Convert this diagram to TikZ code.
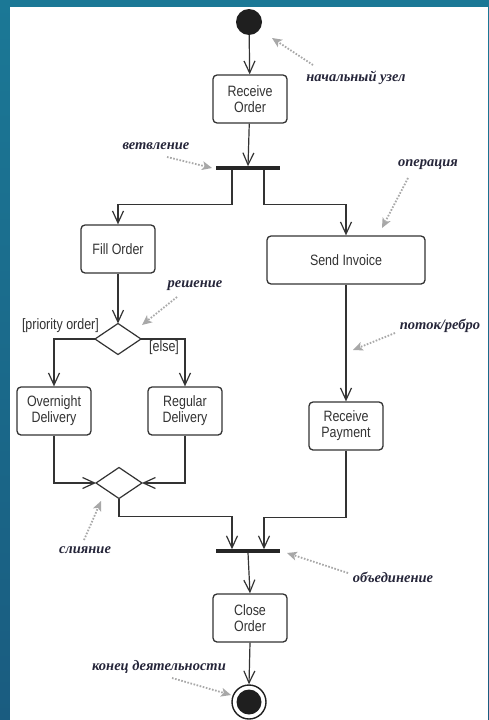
\documentclass[tikz,border=0pt]{standalone}
\usepackage{fontspec}
\setmainfont{Liberation Sans}[FakeStretch=0.83]
\newfontfamily\notefont{Liberation Serif}
\usetikzlibrary{arrows.meta,shapes.geometric,calc}

\definecolor{frameA}{HTML}{1B7896}
\definecolor{frameB}{HTML}{1A5C80}
\definecolor{ink}{HTML}{333333}
\definecolor{noteink}{HTML}{26263A}
\definecolor{notegray}{HTML}{A8A8A8}

\tikzset{
  action/.style={draw=ink, line width=1.3pt, rounded corners=4pt, fill=white,
    minimum width=74pt, minimum height=48pt, align=center, inner sep=2pt,
    font=\fontsize{15}{16}\selectfont, text=ink},
  flow/.style={draw=ink, line width=1.2pt,
    -{Straight Barb[length=12pt,width=11pt]}},
  plainline/.style={draw=ink, line width=1.2pt},
  bar/.style={rectangle, fill=black!85, minimum width=64pt, minimum height=3.5pt,
    inner sep=0pt, outer sep=0pt},
  choice/.style={diamond, draw=ink, line width=1.2pt, fill=white,
    minimum width=46pt, minimum height=31pt, inner sep=0pt, outer sep=0pt},
  guard/.style={font=\fontsize{15}{16}\selectfont, text=ink, inner sep=1pt},
  note/.style={font=\notefont\bfseries\itshape\fontsize{14.5}{16}\selectfont,
    text=noteink, inner sep=0pt},
  pointer/.style={draw=notegray, line width=1.8pt, dash pattern=on 1.6pt off 1.6pt,
    -{Stealth[length=10pt,width=9pt,inset=2.5pt,fill=notegray,line width=0pt]}},
}

\begin{document}
\begin{tikzpicture}[x=1pt,y=-1pt]
  % frame and page
  \useasboundingbox (0,0) rectangle (489,720);
  \shade[top color=frameA, bottom color=frameB] (0,0) rectangle (489,720);
  \fill[white] (10,7) rectangle (488,720);

  % activity nodes
  \node[circle, fill=black!88, minimum size=26pt, inner sep=0pt] (init) at (249,22) {};
  \node[action] (ro) at (250,99) {Receive\\Order};
  \node[bar] (fork) at (248,168) {};
  \node[action] (fill) at (118,249) {Fill Order};
  \node[action, minimum width=158pt] (send) at (346,260) {Send Invoice};
  \node[choice] (dec) at (118,339) {};
  \node[action] (over) at (54,411) {Overnight\\Delivery};
  \node[action] (reg) at (185,411) {Regular\\Delivery};
  \node[action] (pay) at (346,426) {Receive\\Payment};
  \node[choice] (merge) at (119,483) {};
  \node[bar] (join) at (248,551) {};
  \node[action] (close) at (250,618) {Close\\Order};
  \node[circle, draw=black!88, line width=1.4pt, minimum size=34pt, inner sep=0pt] (fin) at (249,702) {};
  \node[circle, fill=black!88, minimum size=25pt, inner sep=0pt] (finin) at (fin.center) {};

  % guards
  \node[guard, anchor=east] (gprio) at (100,326) {[priority order]};
  \node[guard, anchor=west] (gelse) at (148,348) {[else]};

  % control flows
  \draw[flow] (init) -- (ro);
  \draw[flow] (ro) -- (fork.north);
  \draw[flow] ($(fork.south)+(-16,0)$) -- ++(0,35) -| (fill.north);
  \draw[flow] ($(fork.south)+(16,0)$) -- ++(0,35) -| (send.north);
  \draw[flow] (fill) -- (dec.north);
  \draw[flow] (dec.west) -| (over.north);
  \draw[flow] (dec.east) -| (reg.north);
  \draw[flow] (send) -- (pay);
  \draw[flow] (over.south) |- (merge.west);
  \draw[flow] (reg.south) |- (merge.east);
  \draw[flow] (merge.south) -- ++(0,18) -| ($(join.north)+(-16,0)$);
  \draw[flow] (pay.south) -- ++(0,67) -| ($(join.north)+(16,0)$);
  \draw[flow] (join.south) -- (close.north);
  \draw[flow] (close.south) -- (fin.north);

  % annotations
  \node[note] (nInit)  at (356,78)  {начальный узел};
  \node[note] (nFork)  at (156,146) {ветвление};
  \node[note] (nOp)    at (428,165) {операция};
  \node[note] (nDec)   at (195,286) {решение};
  \node[note] (nEdge)  at (440,326) {поток/ребро};
  \node[note] (nMerge) at (85,550)  {слияние};
  \node[note] (nJoin)  at (393,577) {объединение};
  \node[note] (nEnd)   at (159,667) {конец деятельности};

  \coordinate (pInit)  at (313,65);
  \coordinate (pFork)  at (167,157);
  \coordinate (pOp)    at (408,178);
  \coordinate (pDec)   at (177,297);
  \coordinate (pEdge)  at (395,333);
  \coordinate (pMerge) at (84,540);
  \coordinate (pJoin)  at (348,573);
  \coordinate (pEnd)   at (172,678);

  \draw[pointer] (pInit)  -- (272,38);
  \draw[pointer] (pFork)  -- (212,168);
  \draw[pointer] (pOp)    -- (382,228);
  \draw[pointer] (pDec)   -- (142,325);
  \draw[pointer] (pEdge)  -- (353,350);
  \draw[pointer] (pMerge) -- (101,501);
  \draw[pointer] (pJoin)  -- (287,553);
  \draw[pointer] (pEnd)   -- (231,695);
\end{tikzpicture}
\end{document}
